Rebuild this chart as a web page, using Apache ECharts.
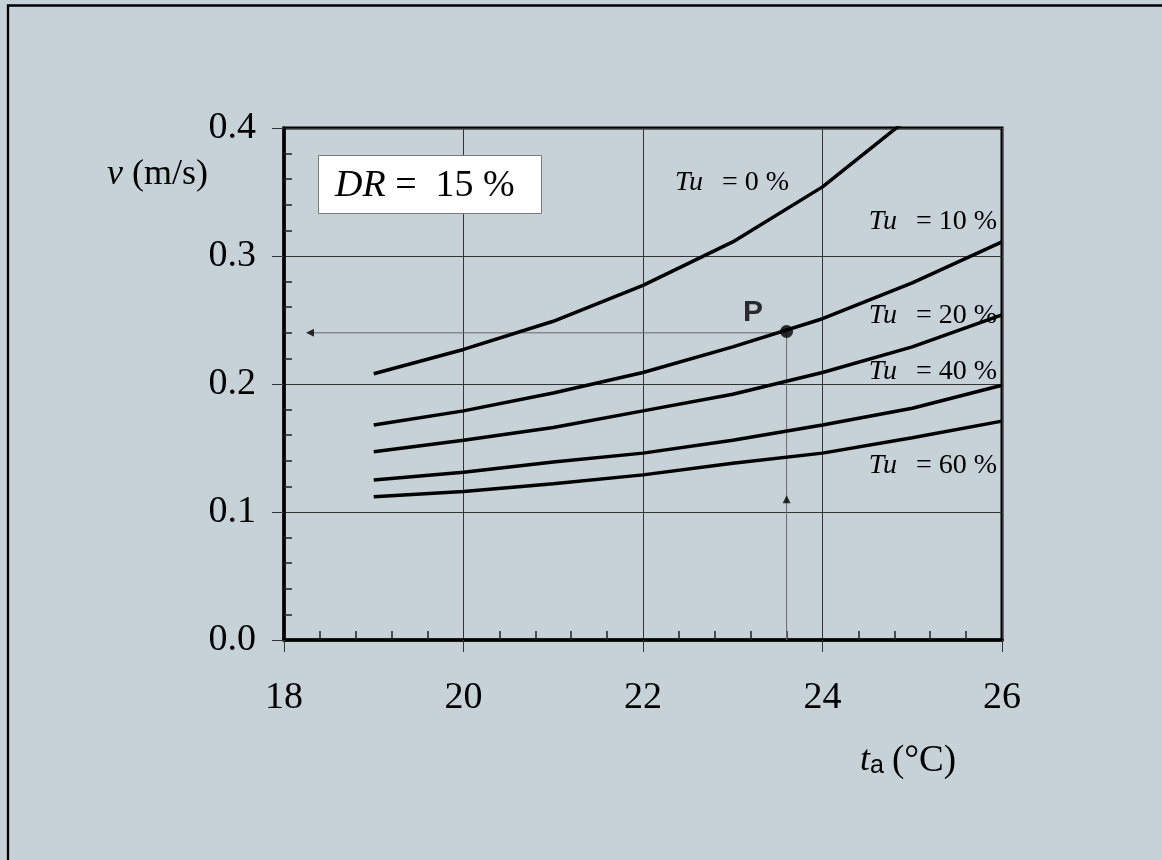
<!DOCTYPE html>
<html>
<head>
<meta charset="utf-8">
<script src="https://cdn.jsdelivr.net/npm/echarts@6/dist/echarts.min.js"></script>
<style>
html, body { margin: 0; padding: 0; background: #c6d1d8; }
#chart { width: 1162px; height: 860px; }
</style>
</head>
<body>
<div id="chart"></div>
<script>
// air temperature (°C) and air velocity (m/s) for DR = 15 %
const temps = [19, 20, 21, 22, 23, 24, 25, 26]
const tu0 = [0.208, 0.227, 0.249, 0.277, 0.311, 0.354, 0.410]
const tu10 = [0.168, 0.179, 0.193, 0.209, 0.229, 0.251, 0.279, 0.311]
const tu20 = [0.147, 0.156, 0.166, 0.179, 0.192, 0.209, 0.229, 0.254]
const tu40 = [0.125, 0.131, 0.139, 0.146, 0.156, 0.168, 0.181, 0.199]
const tu60 = [0.112, 0.116, 0.122, 0.129, 0.138, 0.146, 0.158, 0.171]
const tuLevels = ['0', '10', '20', '40', '60']
const xTicks = [18, 20, 22, 24, 26]
const yTicks = [0.0, 0.1, 0.2, 0.3, 0.4]

// reading example: point P and its guide lines
const pointP = [23.6, 0.241]
const guideH = [[18.29, 0.24], [23.6, 0.24]]
const guideV = [[23.6, 0.24], [23.6, 0]]
const arrowLeft = [18.29, 0.24]
const arrowUp = [23.6, 0.11]

const SERIF = '"Liberation Serif", "Times New Roman", serif'
const SANS = '"Liberation Sans", Arial, sans-serif'

const chart = echarts.init(document.getElementById('chart'))

function curve(values) {
  return {
    type: 'line',
    data: values.map((v, i) => [temps[i], v]),
    symbol: 'none',
    smooth: false,
    clip: true,
    z: 4,
    lineStyle: { color: '#000', width: 3.5 },
  }
}

// label boxes for the curves: [left/right anchor x, middle y, align]
const tuLabelPos = [
  [675, 183, 'left'],
  [997, 222, 'right'],
  [997, 316, 'right'],
  [997, 372, 'right'],
  [997, 466, 'right'],
]

const tuLabels = tuLevels.map((lvl, i) => ({
  type: 'text',
  z: 10,
  style: {
    x: tuLabelPos[i][0],
    y: tuLabelPos[i][1],
    text: `{i|Tu}{n|= ${lvl} %}`,
    align: tuLabelPos[i][2],
    verticalAlign: 'middle',
    textAlign: tuLabelPos[i][2],
    textVerticalAlign: 'middle',
    rich: {
      i: { fontFamily: SERIF, fontSize: 28, fontStyle: 'italic', fill: '#000', color: '#000', padding: [0, 19, 0, 0] },
      n: { fontFamily: SERIF, fontSize: 28, fill: '#000', color: '#000' },
    },
  },
}))

const axisLabelStyle = { fontFamily: SERIF, fontSize: 38, color: '#000' }

chart.setOption({
  backgroundColor: '#c6d1d8',
  animation: false,
  grid: {
    left: 284, top: 128, right: 160, bottom: 220,
    show: true, borderColor: '#000', borderWidth: 3, backgroundColor: 'transparent',
  },
  xAxis: [
    {
      type: 'value', min: xTicks[0], max: xTicks[xTicks.length - 1], interval: 2, position: 'bottom',
      axisLine: { show: true, lineStyle: { color: '#000', width: 3.5 } },
      axisTick: { show: true, length: 12, lineStyle: { color: '#333', width: 1 } },
      axisLabel: { ...axisLabelStyle, margin: 39 },
      splitLine: { show: true, lineStyle: { color: '#333', width: 1 } },
    },
    {
      type: 'value', min: xTicks[0], max: xTicks[xTicks.length - 1], interval: 2, position: 'bottom',
      axisLine: { show: false },
      axisTick: { show: false, inside: true },
      axisLabel: { show: false },
      splitLine: { show: false },
      minorTick: { show: true, splitNumber: 5, length: 9, lineStyle: { color: '#222', width: 1.5 } },
    },
  ],
  yAxis: [
    {
      type: 'value', min: yTicks[0], max: yTicks[yTicks.length - 1], interval: 0.1, position: 'left',
      axisLine: { show: true, lineStyle: { color: '#000', width: 3.5 } },
      axisTick: { show: true, length: 12, lineStyle: { color: '#333', width: 1 } },
      axisLabel: { ...axisLabelStyle, margin: 28, formatter: v => v.toFixed(1) },
      splitLine: { show: true, lineStyle: { color: '#333', width: 1 } },
    },
    {
      type: 'value', min: yTicks[0], max: yTicks[yTicks.length - 1], interval: 0.1, position: 'left',
      axisLine: { show: false },
      axisTick: { show: false, inside: true },
      axisLabel: { show: false },
      splitLine: { show: false },
      minorTick: { show: true, splitNumber: 5, length: 8, lineStyle: { color: '#222', width: 1.5 } },
    },
  ],
  series: [
    curve(tu0), curve(tu10), curve(tu20), curve(tu40), curve(tu60),
    {
      type: 'line', data: guideH, symbol: 'none', z: 3,
      lineStyle: { color: '#6a6a6a', width: 1 },
    },
    {
      type: 'line', data: guideV, symbol: 'none', z: 3,
      lineStyle: { color: '#6a6a6a', width: 1 },
    },
    {
      type: 'scatter', data: [arrowLeft], symbol: 'triangle', symbolSize: [8, 8], symbolRotate: 90, z: 5,
      itemStyle: { color: '#000' },
    },
    {
      type: 'scatter', data: [arrowUp], symbol: 'triangle', symbolSize: [8, 8], z: 5,
      itemStyle: { color: '#000' },
    },
    {
      type: 'scatter', data: [pointP], symbol: 'circle', symbolSize: 13, z: 6,
      itemStyle: { color: '#000' },
      label: {
        show: true, formatter: 'P', position: 'left', distance: 17, offset: [0, -19],
        fontFamily: SANS, fontWeight: 'bold', fontSize: 30, color: '#000',
      },
    },
  ],
  graphic: [
    {
      type: 'rect', z: -1, silent: true,
      shape: { x: 8, y: 5.5, width: 1300, height: 1000 },
      style: { fill: 'none', stroke: '#000', lineWidth: 2.3 },
    },
    {
      type: 'rect', z: 8,
      shape: { x: 318.5, y: 155.5, width: 223, height: 58 },
      style: { fill: '#fff', stroke: '#7a7a7a', lineWidth: 1 },
    },
    {
      type: 'text', z: 9,
      style: {
        x: 335, y: 186, text: '{i|DR}{n| =  15 %}',
        align: 'left', verticalAlign: 'middle', textAlign: 'left', textVerticalAlign: 'middle',
        rich: {
          i: { fontFamily: SERIF, fontSize: 38, fontStyle: 'italic', fill: '#000', color: '#000' },
          n: { fontFamily: SERIF, fontSize: 38, fill: '#000', color: '#000' },
        },
      },
    },
    {
      type: 'text', z: 9,
      style: {
        x: 107, y: 175, text: '{i|v}{n| (m/s)}',
        align: 'left', verticalAlign: 'middle', textAlign: 'left', textVerticalAlign: 'middle',
        rich: {
          i: { fontFamily: SERIF, fontSize: 36, fontStyle: 'italic', fill: '#000', color: '#000' },
          n: { fontFamily: SERIF, fontSize: 36, fill: '#000', color: '#000' },
        },
      },
    },
    {
      type: 'text', z: 9,
      style: { x: 860, y: 761, text: 't', font: `italic 36px ${SERIF}`, fill: '#000', align: 'left', verticalAlign: 'middle', textAlign: 'left', textVerticalAlign: 'middle' },
    },
    {
      type: 'text', z: 9,
      style: { x: 870, y: 766, text: 'a', font: `25px ${SANS}`, fill: '#000', align: 'left', verticalAlign: 'middle', textAlign: 'left', textVerticalAlign: 'middle' },
    },
    {
      type: 'text', z: 9,
      style: { x: 892, y: 761, text: '(°C)', font: `37px ${SERIF}`, fill: '#000', align: 'left', verticalAlign: 'middle', textAlign: 'left', textVerticalAlign: 'middle' },
    },
    ...tuLabels,
  ],
})
</script>
</body>
</html>
